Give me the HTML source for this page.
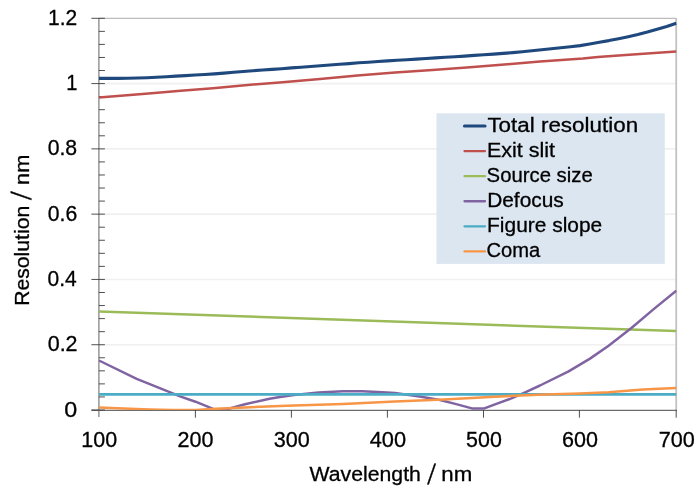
<!DOCTYPE html>
<html lang="en"><head><meta charset="utf-8"><title>Resolution vs Wavelength</title>
<style>html,body{margin:0;padding:0;background:#fff}body{width:700px;height:490px;overflow:hidden}svg{display:block}</style>
</head><body>
<svg width="700" height="490" viewBox="0 0 700 490">
<rect width="700" height="490" fill="#fff"/>
<line x1="98.9" x2="676.2" y1="344.72" y2="344.72" stroke="#f0f0f0" stroke-width="1.6"/>
<line x1="98.9" x2="676.2" y1="279.43" y2="279.43" stroke="#f0f0f0" stroke-width="1.6"/>
<line x1="98.9" x2="676.2" y1="214.15" y2="214.15" stroke="#f0f0f0" stroke-width="1.6"/>
<line x1="98.9" x2="676.2" y1="148.87" y2="148.87" stroke="#f0f0f0" stroke-width="1.6"/>
<line x1="98.9" x2="676.2" y1="83.58" y2="83.58" stroke="#f0f0f0" stroke-width="1.6"/>
<path d="M98.9 18.3 H676.2" fill="none" stroke="#a3a3a3" stroke-width="0.9"/>
<path d="M676.2 17.900000000000002 V410.0" fill="none" stroke="#c2c2c2" stroke-width="1.8"/>
<g stroke="#808080" stroke-width="1.25" fill="none">
<path d="M98.9 18.3 V417.0"/>
<path d="M91.4 410.3 H676.8000000000001" stroke="#6c6c6c" stroke-width="1.15"/>
</g>
<g stroke="#3c3c3c" stroke-width="0.9" fill="none">
<path d="M91.4 410.00H104.9M91.4 344.72H104.9M91.4 279.43H104.9M91.4 214.15H104.9M91.4 148.87H104.9M91.4 83.58H104.9M91.4 18.30H104.9M98.9 396.94H104.9M98.9 383.89H104.9M98.9 370.83H104.9M98.9 357.77H104.9M98.9 331.66H104.9M98.9 318.60H104.9M98.9 305.55H104.9M98.9 292.49H104.9M98.9 266.38H104.9M98.9 253.32H104.9M98.9 240.26H104.9M98.9 227.21H104.9M98.9 201.09H104.9M98.9 188.04H104.9M98.9 174.98H104.9M98.9 161.92H104.9M98.9 135.81H104.9M98.9 122.75H104.9M98.9 109.70H104.9M98.9 96.64H104.9M98.9 70.53H104.9M98.9 57.47H104.9M98.9 44.41H104.9M98.9 31.36H104.9M195.40 410.0V417.7M291.40 410.0V417.7M387.40 410.0V417.7M483.50 410.0V417.7M579.40 410.0V417.7M676.20 410.0V417.7"/>
</g>
<rect x="436.5" y="113.3" width="228.3" height="150.6" fill="#dce6f1"/>
<clipPath id="pa"><rect x="98.30000000000001" y="18.3" width="578.5000000000001" height="391.8"/></clipPath>
<g fill="none" stroke-linejoin="round" stroke-linecap="butt" clip-path="url(#pa)">
<polyline stroke="#1f497d" stroke-width="3.1" points="98.9,78.4 108.5,78.4 118.1,78.4 127.8,78.2 137.4,78.0 147.0,77.7 156.6,77.2 166.3,76.7 175.9,76.1 185.5,75.6 195.1,75.0 204.8,74.5 214.4,73.9 224.0,73.1 233.6,72.3 243.2,71.5 252.9,70.7 262.5,70.0 272.1,69.4 281.7,68.7 291.4,67.9 301.0,67.2 310.6,66.5 320.2,65.7 329.9,65.0 339.5,64.3 349.1,63.6 358.7,62.8 368.4,62.2 378.0,61.5 387.6,60.9 397.2,60.2 406.8,59.7 416.5,59.1 426.1,58.5 435.7,57.9 445.3,57.3 455.0,56.7 464.6,56.1 474.2,55.4 483.8,54.8 493.5,54.1 503.1,53.4 512.7,52.6 522.3,51.7 532.0,50.7 541.6,49.7 551.2,48.8 560.8,47.8 570.4,46.8 580.1,45.6 589.7,44.0 599.3,42.2 608.9,40.6 618.6,38.7 628.2,36.7 637.8,34.5 647.4,32.0 657.1,29.2 666.7,26.4 676.3,23.3"/>
<polyline stroke="#c0504d" stroke-width="2.5" points="99.0,97.6 148.6,93.6 180.7,90.8 212.9,88.2 245.0,85.2 282.5,82.2 320.0,79.0 357.5,75.6 395.0,72.6 432.5,70.0 470.0,67.2 507.5,64.2 540.0,61.4 582.9,58.6 597.9,56.9 625.7,55.0 647.1,53.6 676.3,51.4"/>
<polyline stroke="#9bbb59" stroke-width="2.5" points="99.0,311.5 676.3,331.1"/>
<polyline stroke="#8064a2" stroke-width="2.5" points="99.0,360.5 136.7,378.9 173.4,393.6 180.0,396.4 195.5,401.7 214.3,409.3 227.0,409.3 245.0,404.2 269.5,398.7 280.0,397.1 294.0,395.1 318.5,392.6 343.0,391.2 362.6,391.2 382.3,392.2 395.0,393.1 419.5,396.6 440.0,400.0 454.3,403.6 472.9,408.6 483.6,408.6 497.1,403.6 511.4,398.3 525.7,392.1 540.0,385.5 568.6,371.4 590.0,358.6 608.6,345.7 631.4,328.0 654.3,308.6 676.3,290.6"/>
<polyline stroke="#4bacc6" stroke-width="2.7" points="99.0,394.4 676.3,394.4"/>
<polyline stroke="#f79646" stroke-width="2.5" points="99.0,407.4 130.0,408.7 150.0,409.5 172.0,410.1 196.0,410.1 215.7,408.8 245.0,407.5 280.0,405.9 294.0,405.6 343.0,403.9 395.0,401.5 444.0,399.4 490.0,396.9 545.0,394.5 580.0,393.4 608.6,392.3 642.9,389.6 676.3,388.0"/>
</g>
<line x1="464.5" x2="485" y1="126.00" y2="126.00" stroke="#1f497d" stroke-width="3.2" stroke-linecap="round"/>
<line x1="464.5" x2="485" y1="151.08" y2="151.08" stroke="#c0504d" stroke-width="2.3" stroke-linecap="round"/>
<line x1="464.5" x2="485" y1="176.16" y2="176.16" stroke="#9bbb59" stroke-width="2.3" stroke-linecap="round"/>
<line x1="464.5" x2="485" y1="201.24" y2="201.24" stroke="#8064a2" stroke-width="2.3" stroke-linecap="round"/>
<line x1="464.5" x2="485" y1="226.32" y2="226.32" stroke="#4bacc6" stroke-width="2.3" stroke-linecap="round"/>
<line x1="464.5" x2="485" y1="251.40" y2="251.40" stroke="#f79646" stroke-width="2.3" stroke-linecap="round"/>
<g font-family="'Liberation Sans', Arial, sans-serif" font-size="20.5" fill="#000" stroke="#000" stroke-width="0.3">
<text x="487.40" y="132.10" textLength="150.72" lengthAdjust="spacingAndGlyphs">Total resolution</text>
<text x="486.96" y="157.10" textLength="68.03" lengthAdjust="spacingAndGlyphs">Exit slit</text>
<text x="486.61" y="182.10" textLength="106.11" lengthAdjust="spacingAndGlyphs">Source size</text>
<text x="487.16" y="207.10" textLength="76.62" lengthAdjust="spacingAndGlyphs">Defocus</text>
<text x="487.10" y="232.10" textLength="115.07" lengthAdjust="spacingAndGlyphs">Figure slope</text>
<text x="486.56" y="257.10" textLength="53.76" lengthAdjust="spacingAndGlyphs">Coma</text>
<text x="64.39" y="416.50" font-size="21.2" textLength="12.96" lengthAdjust="spacingAndGlyphs">0</text>
<text x="47.70" y="351.22" font-size="21.2" textLength="29.87" lengthAdjust="spacingAndGlyphs">0.2</text>
<text x="47.57" y="285.93" font-size="21.2" textLength="29.19" lengthAdjust="spacingAndGlyphs">0.4</text>
<text x="47.76" y="220.65" font-size="21.2" textLength="29.43" lengthAdjust="spacingAndGlyphs">0.6</text>
<text x="47.68" y="155.37" font-size="21.2" textLength="29.49" lengthAdjust="spacingAndGlyphs">0.8</text>
<text x="66.16" y="90.08" font-size="21.2" textLength="11.15" lengthAdjust="spacingAndGlyphs">1</text>
<text x="47.97" y="24.80" font-size="21.2" textLength="29.18" lengthAdjust="spacingAndGlyphs">1.2</text>
<text x="81.32" y="447.20" font-size="21.2" textLength="35.82" lengthAdjust="spacingAndGlyphs">100</text>
<text x="177.52" y="447.20" font-size="21.2" textLength="35.96" lengthAdjust="spacingAndGlyphs">200</text>
<text x="273.66" y="447.20" font-size="21.2" textLength="36.06" lengthAdjust="spacingAndGlyphs">300</text>
<text x="369.70" y="447.20" font-size="21.2" textLength="36.41" lengthAdjust="spacingAndGlyphs">400</text>
<text x="466.09" y="447.20" font-size="21.2" textLength="35.73" lengthAdjust="spacingAndGlyphs">500</text>
<text x="561.95" y="447.20" font-size="21.2" textLength="35.96" lengthAdjust="spacingAndGlyphs">600</text>
<text x="658.79" y="447.20" font-size="21.2" textLength="36.08" lengthAdjust="spacingAndGlyphs">700</text>
<text x="309.55" y="480.90" textLength="111.32" lengthAdjust="spacingAndGlyphs">Wavelength</text>
<text transform="translate(427.35 484.40) skewX(-8.4) scale(1 1.36)">/</text>
<text x="441.29" y="480.90" textLength="30.96" lengthAdjust="spacingAndGlyphs">nm</text>
<text transform="translate(28.50 305.82) rotate(-90)" textLength="100.09" lengthAdjust="spacingAndGlyphs">Resolution</text>
<text transform="translate(31.30 199.98) rotate(-90) skewX(-8.4) scale(1 1.36)">/</text>
<text transform="translate(28.50 184.90) rotate(-90)" textLength="30.23" lengthAdjust="spacingAndGlyphs">nm</text>
</g>
</svg>
</body></html>
